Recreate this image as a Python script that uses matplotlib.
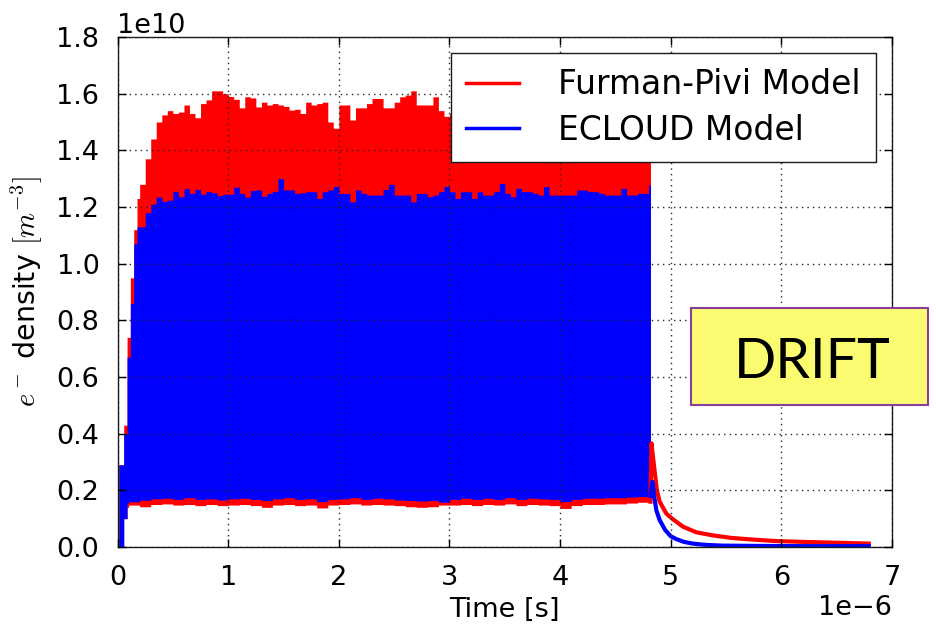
import numpy as np
import matplotlib
matplotlib.use('Agg')
import matplotlib.pyplot as plt
from matplotlib.patches import Rectangle

# ---------------- data (time in microseconds, density in 1e10 m^-3) ----------------
# early ramp: step edges and levels of the oscillation envelopes
early_t = [0.012, 0.056, 0.086, 0.116, 0.146, 0.176]
fp_upper_early = [0.29, 0.43, 0.74, 0.95, 1.12, 1.23]
ec_upper_early = [0.29, 0.40, 0.67, 0.86, 1.07, 1.13]
early_lo_t = [0.012, 0.056, 0.086]
fp_lower_early = [0.0, 0.10, 0.14]
ec_lower_early = [0.0, 0.10, 0.155]

# upper envelopes, one value per 0.05 us starting at 0.20 us
up_t0, up_dt = 0.20, 0.05
fp_upper = [1.28, 1.37, 1.44, 1.50, 1.525, 1.54, 1.53, 1.535, 1.56, 1.53,
            1.515, 1.565, 1.578, 1.61, 1.61, 1.60, 1.59, 1.58, 1.55, 1.589,
            1.585, 1.553, 1.57, 1.56, 1.565, 1.56, 1.555, 1.542, 1.545, 1.53,
            1.57, 1.56, 1.565, 1.57, 1.50, 1.478, 1.56, 1.56, 1.507, 1.55,
            1.55, 1.565, 1.583, 1.583, 1.55, 1.55, 1.57, 1.589, 1.595, 1.61,
            1.56, 1.56, 1.56, 1.589, 1.54, 1.52, 1.53, 1.51, 1.54, 1.52,
            1.53, 1.50, 1.52, 1.54, 1.51, 1.53, 1.52, 1.55, 1.51, 1.52,
            1.53, 1.50, 1.52, 1.54, 1.52, 1.51, 1.53, 1.52, 1.50, 1.53,
            1.52, 1.54, 1.51, 1.52, 1.50, 1.53, 1.52, 1.51, 1.49, 1.52,
            1.50, 1.51, 1.50]
ec_upper = [1.13, 1.18, 1.21, 1.235, 1.22, 1.224, 1.254, 1.236, 1.265, 1.248,
            1.262, 1.245, 1.254, 1.25, 1.24, 1.245, 1.245, 1.27, 1.248, 1.235,
            1.258, 1.26, 1.238, 1.248, 1.255, 1.30, 1.26, 1.26, 1.248, 1.25,
            1.254, 1.254, 1.23, 1.254, 1.26, 1.272, 1.248, 1.248, 1.218, 1.26,
            1.248, 1.242, 1.242, 1.242, 1.262, 1.28, 1.242, 1.242, 1.242, 1.218,
            1.248, 1.248, 1.236, 1.242, 1.254, 1.272, 1.254, 1.23, 1.254, 1.254,
            1.23, 1.254, 1.242, 1.242, 1.254, 1.283, 1.248, 1.236, 1.266, 1.254,
            1.254, 1.248, 1.242, 1.272, 1.242, 1.242, 1.242, 1.242, 1.242, 1.26,
            1.26, 1.254, 1.254, 1.248, 1.242, 1.242, 1.242, 1.266, 1.242, 1.242,
            1.248, 1.248, 1.278]

# lower envelopes, one value per 0.1 us starting at 0.10 us
lo_t0, lo_dt = 0.10, 0.10
fp_lower = [0.148, 0.142, 0.150, 0.152, 0.148, 0.150, 0.146, 0.150, 0.146, 0.148,
            0.150, 0.146, 0.140, 0.148, 0.150, 0.146, 0.148, 0.138, 0.148, 0.150,
            0.152, 0.148, 0.150, 0.148, 0.146, 0.142, 0.140, 0.142, 0.148, 0.148,
            0.150, 0.146, 0.150, 0.148, 0.152, 0.146, 0.150, 0.148, 0.146, 0.136,
            0.146, 0.150, 0.150, 0.152, 0.152, 0.155, 0.158, 0.160]
ec_lower = [0.160, 0.165, 0.170, 0.172, 0.168, 0.174, 0.168, 0.170, 0.166, 0.170,
            0.172, 0.168, 0.164, 0.170, 0.174, 0.168, 0.170, 0.160, 0.168, 0.170,
            0.174, 0.168, 0.172, 0.170, 0.166, 0.164, 0.162, 0.164, 0.158, 0.168,
            0.172, 0.168, 0.172, 0.168, 0.174, 0.168, 0.172, 0.170, 0.168, 0.160,
            0.168, 0.172, 0.172, 0.174, 0.174, 0.176, 0.178, 0.178]
beam_end = 4.817

# drift (decay) after the beam
fp_decay_t = [4.817, 4.826, 4.845, 4.86, 4.875, 4.90, 4.96, 5.02, 5.11, 5.23,
              5.38, 5.55, 5.75, 5.95, 6.20, 6.50, 6.79]
fp_decay_v = [0.16, 0.366, 0.30, 0.25, 0.20, 0.16, 0.118, 0.098, 0.072, 0.052,
              0.041, 0.032, 0.026, 0.021, 0.018, 0.015, 0.012]
ec_decay_t = [4.817, 4.835, 4.85, 4.87, 4.90, 4.95, 5.00, 5.05, 5.12, 5.20,
              5.30, 5.45, 5.70, 6.20, 6.79]
ec_decay_v = [0.18, 0.23, 0.18, 0.13, 0.095, 0.06, 0.038, 0.028, 0.018, 0.012,
              0.008, 0.005, 0.004, 0.003, 0.003]

labels = ['Furman-Pivi Model', 'ECLOUD Model']
colors = ['#ff0000', '#0000ff']

# ---------------- helpers ----------------
def edges_of(early, t0, dt, n):
    return np.concatenate([np.asarray(early, float), t0 + dt * np.arange(n)])

def step_eval(edges, vals, tg):
    idx = np.searchsorted(edges, tg, side='right') - 1
    return np.asarray(vals, float)[np.clip(idx, 0, len(vals) - 1)]

tg = np.linspace(early_t[0], beam_end, 6000)
fp_hi = step_eval(edges_of(early_t, up_t0, up_dt, len(fp_upper)), fp_upper_early + fp_upper, tg)
ec_hi = step_eval(edges_of(early_t, up_t0, up_dt, len(ec_upper)), ec_upper_early + ec_upper, tg)
fp_lo = step_eval(edges_of(early_lo_t, lo_t0, lo_dt, len(fp_lower)), fp_lower_early + fp_lower, tg)
ec_lo = step_eval(edges_of(early_lo_t, lo_t0, lo_dt, len(ec_lower)), ec_lower_early + ec_lower, tg)

# ---------------- style ----------------
plt.rcParams['font.family'] = ['DejaVu Sans']
plt.rcParams['mathtext.fontset'] = 'cm'
plt.rcParams['xtick.labelsize'] = 19.5
plt.rcParams['ytick.labelsize'] = 19.5
plt.rcParams['axes.unicode_minus'] = True

fig = plt.figure(figsize=(9.36, 6.34), dpi=100)
ax = fig.add_axes([117.5 / 936, 1 - 547 / 634, (892 - 117.5) / 936, (547 - 37) / 634])

TS, DS = 1e-6, 1e10
ax.fill_between(tg * TS, fp_lo * DS, fp_hi * DS, step='post', color=colors[0], lw=0)
ax.plot(np.array(fp_decay_t) * TS, np.array(fp_decay_v) * DS, color=colors[0], lw=3,
        label=labels[0])
ax.fill_between(tg * TS, ec_lo * DS, ec_hi * DS, step='post', color=colors[1], lw=0)
ax.plot(np.array(ec_decay_t) * TS, np.array(ec_decay_v) * DS, color=colors[1], lw=3,
        label=labels[1])

ax.set_xlim(0, 7e-6)
ax.set_ylim(0, 1.8e10)
ax.set_xticks(np.arange(0, 8) * 1e-6)
ax.set_yticks(np.arange(0, 10) * 0.2e10)

ax.set_axisbelow(False)
ax.grid(True, color='0.15', linestyle=(0, (1, 3)), linewidth=1.0)
ax.tick_params(direction='in', top=True, right=True, length=6, width=1, pad=13,
               labelsize=19.5)
for s in ax.spines.values():
    s.set_linewidth(1.0)
    s.set_color('0.1')

ax.set_xlabel('Time [s]', fontsize=19.5, labelpad=4)
ax.set_ylabel(r'$e^-$ density $[m^{-3}]$', fontsize=20.5, labelpad=8)
ax.xaxis.get_offset_text().set_fontsize(19.5)
ax.yaxis.get_offset_text().set_fontsize(19.5)

leg = ax.legend(loc='upper right', fontsize=23.7, fancybox=False, framealpha=1,
                edgecolor='0.1', handlelength=1.6, handletextpad=1.2, borderpad=0.45,
                borderaxespad=0.5, labelspacing=0.38)
leg.get_frame().set_linewidth(1.0)
for h in leg.get_lines():
    h.set_linewidth(2.5)

# DRIFT label box (extends past the axes)
fig.add_artist(Rectangle((691 / 936, 1 - 405 / 634), (928 - 691) / 936, (405 - 308) / 634,
                         transform=fig.transFigure, facecolor='#fbfb72',
                         edgecolor='#8a3d9a', lw=1.5, zorder=10))
fig.text(812 / 936, 1 - 378 / 634, 'DRIFT', fontsize=40, family=['Lato', 'DejaVu Sans'],
         ha='center', va='baseline', zorder=11)

fig.savefig('out.png', dpi=100)
